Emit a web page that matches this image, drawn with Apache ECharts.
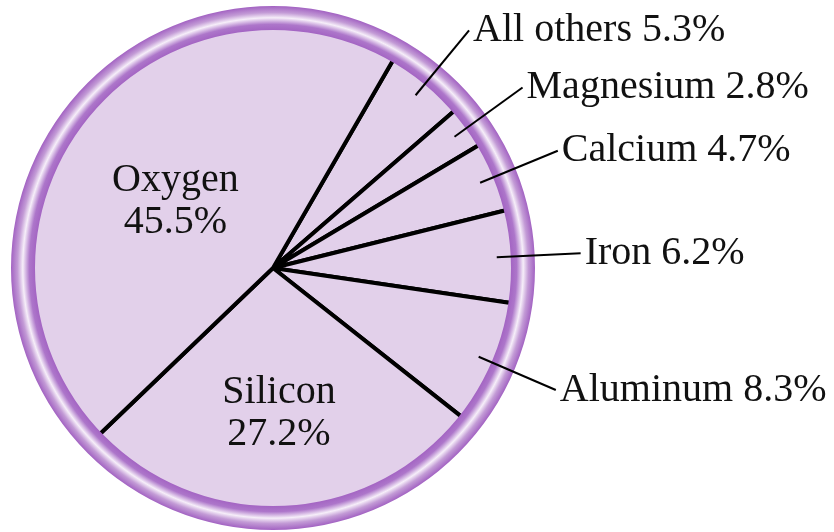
<!DOCTYPE html>
<html>
<head>
<meta charset="utf-8">
<script src="https://cdn.jsdelivr.net/npm/echarts@6/dist/echarts.min.js"></script>
<style>
  html, body { margin: 0; padding: 0; background: #ffffff; }
  #main { width: 834px; height: 532px; }
</style>
</head>
<body>
<div id="main"></div>
<script>
// slices in clockwise order, starting just right of the top
const categories = ['All others', 'Magnesium', 'Calcium', 'Iron', 'Aluminum', 'Silicon', 'Oxygen'];
const values = [5.3, 2.8, 4.7, 6.2, 8.3, 27.2, 45.5];
const insideNames = ['Silicon', 'Oxygen'];

const chart = echarts.init(document.getElementById('main'));
const font = '"Liberation Serif", "Times New Roman", serif';
const center = [273, 268];

const sliceData = categories.map((name, i) => ({ name: name, value: values[i] }));

const option = {
  backgroundColor: '#ffffff',
  animation: false,
  series: [
    {
      // filled pie with black dividers
      type: 'pie',
      z: 2,
      silent: true,
      center: center,
      radius: [0, 242],
      startAngle: 60,
      clockwise: true,
      avoidLabelOverlap: false,
      itemStyle: { color: '#e2d0ea', borderColor: '#000000', borderWidth: 4 },
      labelLine: { show: false },
      data: sliceData.map(d => ({
        name: d.name,
        value: d.value,
        label: {
          show: insideNames.includes(d.name),
          position: 'inside',
          offset: d.name === 'Silicon' ? [0, 22] : [0, 10],
          formatter: '{b}\n{c}%',
          fontFamily: font,
          fontSize: 40,
          lineHeight: 42,
          color: '#111111'
        }
      }))
    },
    {
      // purple rim
      type: 'pie',
      z: 3,
      silent: true,
      center: center,
      radius: [238, 262],
      label: { show: false },
      labelLine: { show: false },
      itemStyle: {
        color: {
          type: 'radial', x: 0.5, y: 0.5, r: 0.5,
          colorStops: [
            { offset: 0.905, color: '#a262c2' },
            { offset: 0.93, color: '#ad76ca' },
            { offset: 0.955, color: '#f6eef9' },
            { offset: 0.975, color: '#c39bd6' },
            { offset: 1, color: '#a262c2' }
          ]
        }
      },
      data: [{ name: 'rim', value: 1 }]
    },
    {
      // outside labels with leader lines
      type: 'pie',
      z: 4,
      silent: true,
      center: center,
      radius: [0, 224],
      startAngle: 60,
      clockwise: true,
      avoidLabelOverlap: false,
      itemStyle: { color: 'rgba(0,0,0,0)', borderWidth: 0 },
      label: {
        position: 'outside',
        formatter: '{b} {c}%',
        fontFamily: font,
        fontSize: 40,
        color: '#111111',
        distanceToLabelLine: 4
      },
      labelLine: {
        show: true,
        length: 84,
        length2: 0,
        lineStyle: { color: '#000000', width: 2 }
      },
      data: sliceData.map(d => ({
        name: d.name,
        value: d.value,
        label: { show: !insideNames.includes(d.name) },
        labelLine: { show: !insideNames.includes(d.name) }
      }))
    }
  ]
};

chart.setOption(option);
</script>
</body>
</html>
